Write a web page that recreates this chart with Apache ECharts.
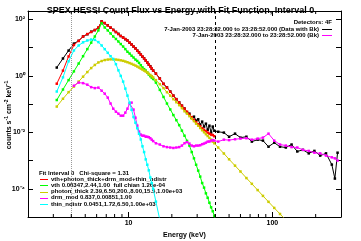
<!DOCTYPE html>
<html><head><meta charset="utf-8">
<script src="https://cdn.jsdelivr.net/npm/echarts@6/dist/echarts.min.js"></script>
<style>html,body{margin:0;padding:0;background:#fff}#c{width:361px;height:241px}</style>
</head><body><div id="c"></div>
<script>
// Energy bin centres (keV)
const energies = [3.17,3.5,3.83,4.17,4.5,4.83,5.17,5.5,5.83,6.17,6.5,6.83,7.17,7.5,7.83,8.17,8.5,8.83,9.17,9.5,9.83,10.17,10.5,10.83,11.17,11.5,11.83,12.17,12.5,12.83,13.17,13.5,13.83,14.17,14.5,14.83,
  15.5,16.5,17.5,18.5,19.5,20.5,21.5,22.5,23.5,24.5,25.5,26.5,27.5,28.5,29.5,30.5,31.5,32.5,33.5,34.5,35.5,36.5,37.5,38.5,39.5,
  42,46,50,55,60,66,72,79,86,94,103,113,124,136,149,163,179,196,215,236,259,272,284];

// counts s^-1 cm^-2 keV^-1
const dataWithBk = [1.98,4.15,7.9,14,17.5,25,30,37,42,51,86,74,62,51,43,36,31,26,23,20,18,15,13,11,9.5,7.9,6.8,5.7,4.8,4.2,3.5,3.0,2.5,2.2,1.8,1.56,
  1.2,0.81,0.52,0.39,0.28,0.2,0.15,0.115,0.088,0.07,0.05,0.046,0.033,0.036,0.026,0.029,0.0187,0.024,0.016,0.0203,0.0124,0.0172,0.0098,0.016,0.0114,
  0.0105,0.0098,0.007,0.009,0.0065,0.007,0.0047,0.0055,0.0051,0.0031,0.0043,0.0031,0.0029,0.0037,0.0021,0.0024,0.0018,0.0022,0.0015,0.0018,7.2e-4,2.3e-4,0.0019];
const totalModel = [0.53,1.54,4.9,12.5,17.5,24.9,30.5,36,42.4,52,85,75,61,52,42.4,36,30.5,26,22.9,20.3,17.9,15.2,12.9,11.0,9.4,7.9,6.75,5.7,4.87,4.14,3.5,2.98,2.53,2.15,1.83,1.55,
  1.21,0.80,0.53,0.385,0.276,0.2,0.15,0.113,0.088,0.069,0.054,0.0424,0.0345,0.028,0.0229,0.0195,0.0165,0.014,0.0124,0.011,0.0098,0.009,0.0083,0.008,0.0073];
const vthModel = [0.14,0.33,0.71,1.45,2.75,5.0,8.9,15.1,25,41,74,52,41,32,25,20.4,16.6,13.5,11,8.9,7.2,6.2,5.2,4.5,3.8,3.4,2.9,2.4,2.0,1.74,1.55,1.32,1.12,0.98,0.87,0.78,
  0.58,0.32,0.18,0.105,0.065,0.041,0.027,0.018,0.0115,0.0076,0.005,0.0034,0.002,0.0012,7.1e-4,4.4e-4,2.7e-4,1.6e-4,1.1e-4,6.9e-5,4.8e-5,3.2e-5,2.2e-5,1.6e-5,1.1e-5,
  3.2e-6];
const photonThick = [0.082,0.155,0.265,0.42,0.63,0.94,1.37,1.9,2.45,3.0,3.37,3.65,3.8,3.86,3.86,3.8,3.7,3.57,3.43,3.24,3.06,2.86,2.68,2.49,2.33,2.15,1.98,1.82,1.68,1.55,1.43,1.32,1.19,1.08,0.98,0.885,
  0.71,0.51,0.37,0.265,0.2,0.15,0.117,0.092,0.072,0.056,0.046,0.0375,0.0305,0.025,0.0203,0.0172,0.0143,0.0119,0.0101,0.0086,0.0074,0.0064,0.0055,0.0047,0.0041,
  0.0029,0.00178,0.00111,6.6e-4,4.1e-4,2.4e-4,1.5e-4,9.0e-5,5.6e-5,3.45e-5,2.1e-5,1.28e-5,7.8e-6];
const drmMod = [null,null,null,0.45,0.58,0.555,0.49,0.40,0.37,0.385,0.30,0.235,0.17,0.105,0.069,0.054,0.046,0.039,0.039,0.05,0.069,0.105,0.113,0.064,0.033,0.0173,0.0106,0.0083,0.0076,0.0076,0.0070,0.0070,0.0067,0.0062,0.0055,0.0049,
  0.0041,0.0037,0.0032,0.003,0.0029,0.0028,0.0029,0.003,0.0034,0.0041,0.0045,0.004,0.0034,0.0032,0.0034,0.0034,0.0035,0.0038,0.004,0.0043,0.0047,0.0047,0.0051,0.0053,0.0051,
  0.0047,0.0055,0.0053,0.0057,0.006,0.0062,0.0055,0.006,0.0065,0.009,0.0051,0.0037,0.0034,0.003,0.0029,0.0024,0.0022,0.0019,0.0018,0.0015,0.0013,0.0012,0.001];
const thinNdistr = [0.28,0.89,3.3,8,12,15.5,18,19.5,19,15.8,12,8.9,6.6,5.0,4.0,2.6,1.58,1.0,0.63,0.355,0.2,0.112,0.063,0.035,0.022,0.014,0.0089,0.0056,0.0032,0.002,0.0011,7.1e-4,4.5e-4,2.5e-4,1.6e-4,1.0e-4,
  3.5e-5,7.9e-6];

const xMinorTicks = [3,4,5,6,7,8,9,20,30,40,50,60,70,80,90,200];
const fitRangeLow = 4, fitRangeHigh = 40;

const titleText = 'SPEX HESSI Count Flux vs Energy with Fit Function, Interval 0';
const yTitle = 'counts s{s|-1} cm{s|-2} keV{s|-1}';
const topLegend = ['Detectors: 4F', '7-Jan-2003 23:28:32.000 to 23:28:52.000 (Data with Bk)', '7-Jan-2003 23:28:32.000 to 23:28:52.000 (Bk)'];
const fitHeader = 'Fit Interval 0   Chi-square = 1.31';
const fitLegend = ['vth+photon_thick+drm_mod+thin_ndistr', 'vth 0.00347,2.44,1.00  full chian 1.26e-04', 'photon_thick 2.39,6.50,200.,8.00,15.5,1.00e+03', 'drm_mod 0.837,0.00851,1.00', 'thin_ndistr 0.0451,1.72,6.50,1.00e+03'];
const fitColors = ['#ff0000', '#00ff00', '#cccc00', '#ff00ff', '#00ffff'];
const supDigits = {'0':'\u2070','1':'\u00b9','2':'\u00b2','3':'\u00b3','4':'\u2074','5':'\u2075','6':'\u2076','7':'\u2077','8':'\u2078','9':'\u2079','-':'\u207b'};

const FONT = '"Liberation Sans", Arial, sans-serif';
function pairs(vals){ const out=[]; for(let i=0;i<vals.length;i++){ if(vals[i]!=null) out.push([energies[i], vals[i]]);} return out; }
function isDecade(v){ const l=Math.log10(v); return Math.abs(l-Math.round(l))<1e-6; }
function sup(n){ return String(n).split('').map(c=>supDigits[c]).join(''); }

const chart = echarts.init(document.getElementById('c'), null, {renderer:'canvas'});
const axisBase = {type:'log', logBase:10, axisLine:{lineStyle:{color:'#000', width:1}}, splitLine:{show:false},
  axisTick:{inside:true, length:5, lineStyle:{color:'#000', width:1}}};

function lineSeries(name, vals, color, z){
  return {name, type:'line', data:pairs(vals), z, symbol:'rect', symbolSize:2.5, showSymbol:true,
    lineStyle:{color, width:1}, itemStyle:{color}, emphasis:{disabled:true}, animation:false, clip:true};
}

const graphics = [];
const small = 'bold 6px '+FONT;
graphics.push({type:'text', x:332, y:22, style:{text:topLegend[0], font:small, fill:'#000', align:'right', verticalAlign:'middle'}});
graphics.push({type:'text', x:319, y:29, style:{text:topLegend[1], font:small, fill:'#000', align:'right', verticalAlign:'middle'}});
graphics.push({type:'line', shape:{x1:322, y1:29.5, x2:332, y2:29.5}, style:{stroke:'#000', lineWidth:1}});
graphics.push({type:'text', x:319, y:35, style:{text:topLegend[2], font:small, fill:'#000', align:'right', verticalAlign:'middle'}});
graphics.push({type:'line', shape:{x1:322, y1:35.5, x2:332, y2:35.5}, style:{stroke:'#ff00ff', lineWidth:1}});
graphics.push({type:'text', x:39, y:173, style:{text:fitHeader, font:small, fill:'#000', align:'left', verticalAlign:'middle'}});
fitLegend.forEach((t,i)=>{
  const y = 179 + i*6.25;
  graphics.push({type:'line', shape:{x1:40, y1:Math.round(y)+0.5, x2:48, y2:Math.round(y)+0.5}, style:{stroke:fitColors[i], lineWidth:1}});
  graphics.push({type:'text', x:51, y:y, style:{text:t, font:small, fill:'#000', align:'left', verticalAlign:'middle'}});
});
graphics.push({type:'text', x:9, y:115, rotation:Math.PI/2, style:{text:yTitle, font:'bold 7px '+FONT, fill:'#000', align:'center', verticalAlign:'middle',
  rich:{s:{font:'bold 5px '+FONT, fill:'#000', verticalAlign:'top', lineHeight:9}}}});

const option = {
  animation:false,
  backgroundColor:'#fff',
  title:{text:titleText, left:'center', top:1, textStyle:{fontFamily:FONT, fontWeight:'bold', fontSize:9, color:'#000'}},
  grid:{left:28, top:11, right:20, bottom:24, containLabel:false, outerBoundsMode:'none'},
  xAxis:[
    Object.assign({}, axisBase, {min:2, max:300, position:'bottom', name:'Energy (keV)', nameLocation:'middle', nameGap:13,
      nameTextStyle:{fontFamily:FONT, fontWeight:'bold', fontSize:7, color:'#000'},
      axisLabel:{margin:3, fontFamily:FONT, fontSize:7, fontWeight:'bold', color:'#000', formatter:v=>isDecade(v)?String(Math.round(v)):''}}),
    Object.assign({}, axisBase, {min:2, max:300, position:'top', axisLabel:{show:false}})
  ],
  yAxis:[
    Object.assign({}, axisBase, {min:1e-5, max:200, position:'left',
      axisLabel:{margin:3, color:'#000', hideOverlap:false, fontFamily:FONT, fontSize:7, fontWeight:'bold',
        formatter:v=>{ if(!isDecade(v)) return ''; const e=Math.round(Math.log10(v)); if(e%2!==0) return ''; return '10'+sup(e); }}}),
    Object.assign({}, axisBase, {min:1e-5, max:200, position:'right', axisLabel:{show:false}})
  ],
  graphic: graphics,
  series:[
    Object.assign(lineSeries('Data with Bk', dataWithBk, '#000', 2), {markLine:{silent:true, symbol:'none', animation:false, label:{show:false},
      data:[{xAxis:fitRangeLow, lineStyle:{type:[1,1], color:'#999', width:1}}, {xAxis:fitRangeHigh, lineStyle:{type:[3,3], color:'#000', width:1}}]}}),
    lineSeries('Total', totalModel, '#ff0000', 3),
    lineSeries('vth', vthModel, '#00ff00', 4),
    lineSeries('photon_thick', photonThick, '#cccc00', 5),
    lineSeries('drm_mod', drmMod, '#ff00ff', 6),
    lineSeries('thin_ndistr', thinNdistr, '#00ffff', 7),
    {type:'custom', coordinateSystem:'cartesian2d', xAxisIndex:0, yAxisIndex:0, silent:true, clip:false, z:10,
      data:xMinorTicks.map(v=>[v,1]), encode:{x:0, y:1},
      renderItem:(params, api)=>{ const e=api.value(0); const b=api.coord([e,1e-5]); const t=api.coord([e,200]);
        return {type:'group', children:[
          {type:'line', shape:{x1:b[0], y1:b[1], x2:b[0], y2:b[1]-3}, style:{stroke:'#000', lineWidth:1}},
          {type:'line', shape:{x1:t[0], y1:t[1], x2:t[0], y2:t[1]+3}, style:{stroke:'#000', lineWidth:1}}]}; }}
  ]
};
chart.setOption(option);
</script></body></html>
